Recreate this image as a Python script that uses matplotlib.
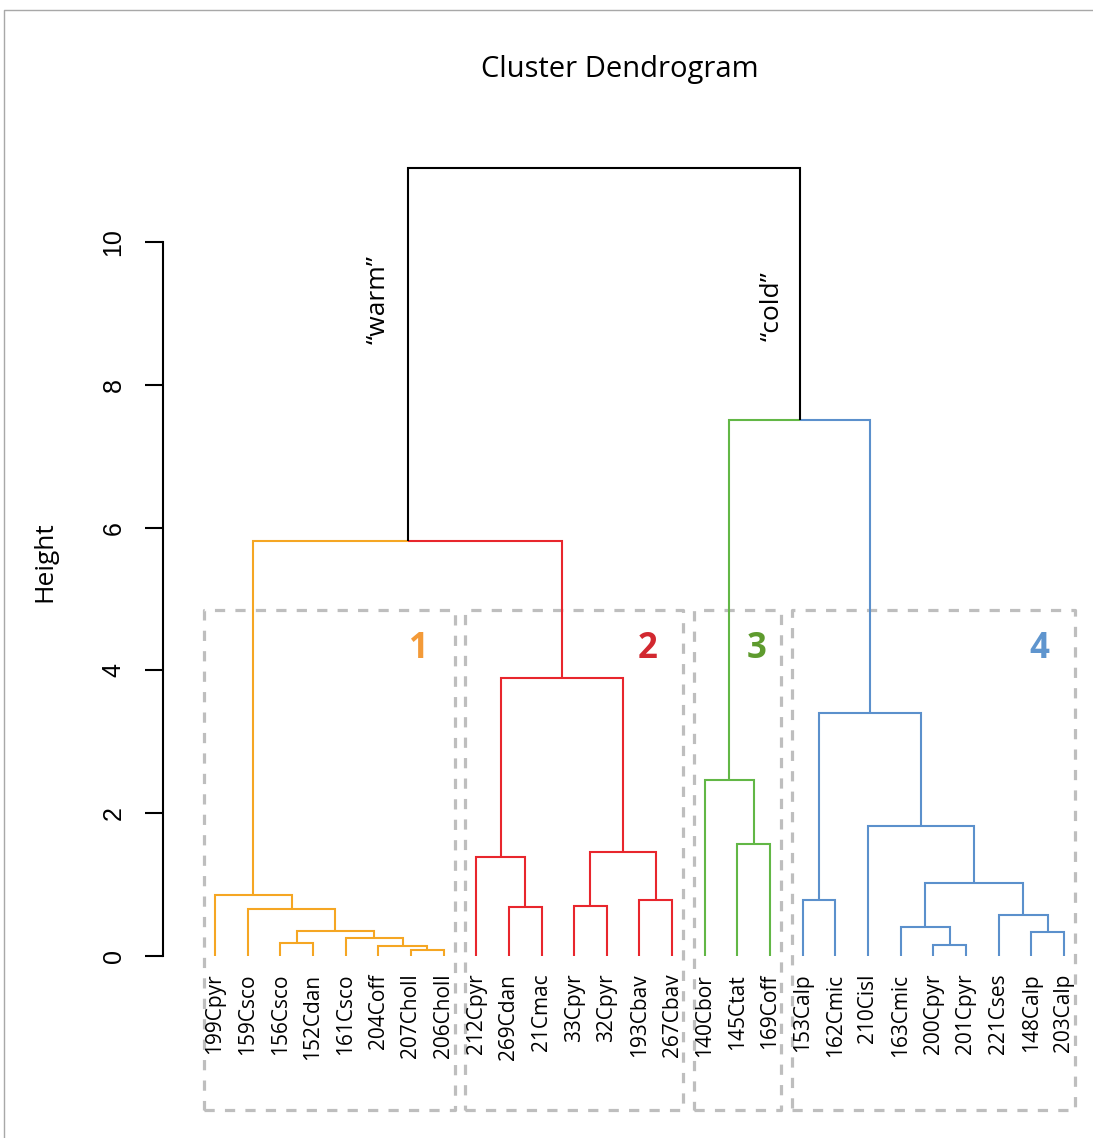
import matplotlib
matplotlib.use("Agg")
import matplotlib.pyplot as plt
from matplotlib.lines import Line2D

# ---------------- data ----------------
leaf_labels = ["199Cpyr", "159Csco", "156Csco", "152Cdan", "161Csco", "204Coff", "207Choll", "206Choll",
               "212Cpyr", "269Cdan", "21Cmac", "33Cpyr", "32Cpyr", "193Cbav", "267Cbav",
               "140Cbor", "145Ctat", "169Coff",
               "153Calp", "162Cmic", "210Cisl", "163Cmic", "200Cpyr", "201Cpyr", "221Cses", "148Calp", "203Calp"]
leaf_cluster = [1] * 8 + [2] * 7 + [3] * 3 + [4] * 9

# R hclust-style merge table: negative = leaf (1-based), positive = earlier merge row (1-based)
merge_a = [-7, -6, -3, -5, 3, -2, -1, -10, -12, -14, -9, 9, 11, 7, -17, -16, -23, -22, -26, -25, 18, -21, -19, 23, 16, 14]
merge_b = [-8, 1, -4, 2, 4, 5, 6, -11, -13, -15, 8, 10, 12, 13, -18, 15, -24, 17, -27, 19, 20, 21, -20, 22, 24, 25]
merge_h = [0.08, 0.14, 0.18, 0.25, 0.35, 0.66, 0.85, 0.69, 0.70, 0.79, 1.39, 1.46, 3.89, 5.81,
           1.57, 2.47, 0.16, 0.41, 0.34, 0.57, 1.02, 1.82, 0.78, 3.40, 7.51, 11.04]

cluster_names = ["1", "2", "3", "4"]
line_colors = {1: "#F5A623", 2: "#E8262D", 3: "#62B746", 4: "#5B90CC", None: "black"}
label_colors = {1: "#F39A38", 2: "#D22830", 3: "#5E9B2E", 4: "#5F95CE"}
yticks = [0, 2, 4, 6, 8, 10]

# ---------------- figure ----------------
W, H = 1093, 1138
fig = plt.figure(figsize=(W / 100, H / 100), dpi=100)
ax = fig.add_axes([0, 0, 1, 1])

px0, dpx = 215.0, 32.65     # leaf 0 pixel x, spacing
py0, dpy = 956.0, 71.4      # y=0 pixel row, pixels per unit
ax.set_xlim(-px0 / dpx, (W - px0) / dpx)
ax.set_ylim((py0 - H) / dpy, py0 / dpy)

node_x = {}
node_h = {}
node_cl = {}

def child_info(c):
    if c < 0:
        i = -c - 1
        return float(i), 0.0, leaf_cluster[i]
    return node_x[c], node_h[c], node_cl[c]

for k, (a, b, h) in enumerate(zip(merge_a, merge_b, merge_h), start=1):
    ax_, ah, acl = child_info(a)
    bx_, bh, bcl = child_info(b)
    x = (ax_ + bx_) / 2
    node_x[k], node_h[k] = x, h
    node_cl[k] = acl if (acl == bcl and acl is not None) else None
    for cx, ch, ccl in [(ax_, ah, acl), (bx_, bh, bcl)]:
        ax.plot([cx, cx, x], [ch, h, h], color=line_colors[ccl], lw=1.5,
                solid_capstyle="butt", solid_joinstyle="miter", zorder=3)

# leaf labels
for i, lab in enumerate(leaf_labels):
    ax.text(i, -0.25, lab, rotation=90, ha="center", va="top", fontsize=15,
            family="Open Sans", color="black")

# cluster rectangles (rect.hclust style)
sorted_h = sorted(merge_h, reverse=True)
top = (sorted_h[2] + sorted_h[3]) / 2
bottom = (py0 - 1110) / dpy
label_inset = [0.8, 0.8, 0.45, 0.8]
for ci, name in enumerate(cluster_names, start=1):
    idx = [i for i, c in enumerate(leaf_cluster) if c == ci]
    x0 = idx[0] - 0.34
    x1 = idx[-1] + 0.34
    ax.plot([x0, x1, x1, x0, x0], [bottom, bottom, top, top, bottom], color="#BEBEBE",
            lw=2.3, ls=(0, (3.2, 3.2)), zorder=2)
    ax.text(x1 - label_inset[ci - 1], 4.3, name, ha="right", va="center", fontsize=25,
            fontweight="bold", family="Open Sans", color=label_colors[ci])

# warm / cold labels
lx = node_x[merge_a[-1]]
rx = node_x[merge_b[-1]]
ax.text(lx - 0.9, 9.2, "\u201cwarm\u201d", rotation=90, ha="center", va="center", fontsize=19,
        family="Open Sans")
ax.text(rx - 0.85, 9.1, "\u201ccold\u201d", rotation=90, ha="center", va="center", fontsize=19,
        family="Open Sans")

# y axis
for s in ["top", "right", "bottom"]:
    ax.spines[s].set_visible(False)
ax.spines["left"].set_position(("data", (163 - px0) / dpx))
ax.spines["left"].set_bounds(0, 10)
ax.spines["left"].set_linewidth(1.5)
ax.set_xticks([])
ax.set_yticks(yticks)
ax.set_yticklabels([str(t) for t in yticks], rotation=90, va="center",
                   fontsize=18, family="Liberation Sans")
ax.tick_params(axis="y", length=13, width=1.5, pad=14, direction="out")

fig.text(620 / W, 1 - 70 / H, "Cluster Dendrogram", ha="center", va="center",
         fontsize=21, family="Open Sans")
fig.text(45 / W, 1 - 562 / H, "Height", rotation=90, ha="center", va="center",
         fontsize=19, family="Open Sans")

# thin frame (top and left)
fig.add_artist(Line2D([4 / W, 4 / W, 1], [0, 1 - 10 / H, 1 - 10 / H], color="#A8A8A8",
                      lw=1.0, transform=fig.transFigure))

fig.savefig("out.png", dpi=100)
